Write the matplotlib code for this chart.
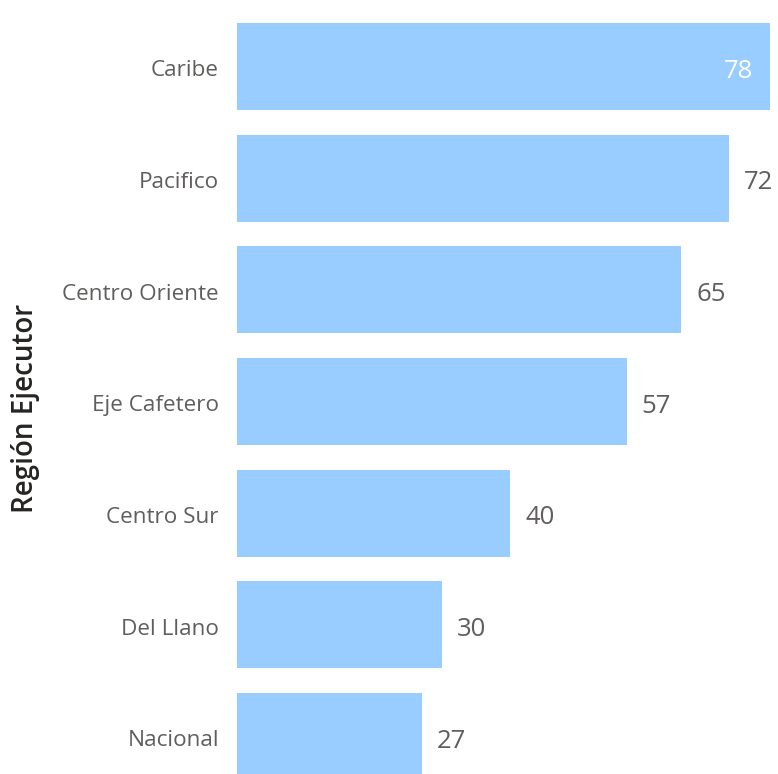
import matplotlib
matplotlib.use("Agg")
import matplotlib.pyplot as plt
from matplotlib.transforms import ScaledTranslation

# =========================
# datos
# =========================
regiones = ["Caribe", "Pacifico", "Centro Oriente", "Eje Cafetero",
            "Centro Sur", "Del Llano", "Nacional"]
valores = [78, 72, 65, 57, 40, 30, 27]

plt.rcParams["font.family"] = ["Open Sans", "DejaVu Sans"]

fig = plt.figure(figsize=(7.78, 7.74), dpi=100)
ax = fig.add_axes([237 / 778, 0, 533 / 778, 1])

pos = list(range(len(regiones)))
ax.barh(pos, valores, height=0.78, color="#99CCFF")

ax.set_xlim(0, 78)
ax.set_ylim(6.336, -0.595)

# etiquetas de valor
for i, v in enumerate(valores):
    if i == 0:
        ax.annotate(str(v), (v, i), xytext=(-12, -3.5), textcoords="offset points",
                    ha="right", va="center", fontsize=18.5, color="white")
    else:
        ax.annotate(str(v), (v, i), xytext=(11, -3.5), textcoords="offset points",
                    ha="left", va="center", fontsize=18.5, color="#605E5C")

ax.set_yticks(pos)
ax.set_yticklabels(regiones, fontsize=16.2, color="#605E5C")
ax.tick_params(axis="y", length=0, pad=13)
off = ScaledTranslation(0, -2 / 100, fig.dpi_scale_trans)
for lab in ax.get_yticklabels():
    lab.set_transform(lab.get_transform() + off)
ax.set_xticks([])
for s in ax.spines.values():
    s.set_visible(False)

fig.text(26 / 778, 1 - 408 / 774, "Región Ejecutor", rotation=90, ha="center",
         va="center", fontsize=20, fontweight="semibold", color="#252423")

fig.savefig("out.png", dpi=100)
